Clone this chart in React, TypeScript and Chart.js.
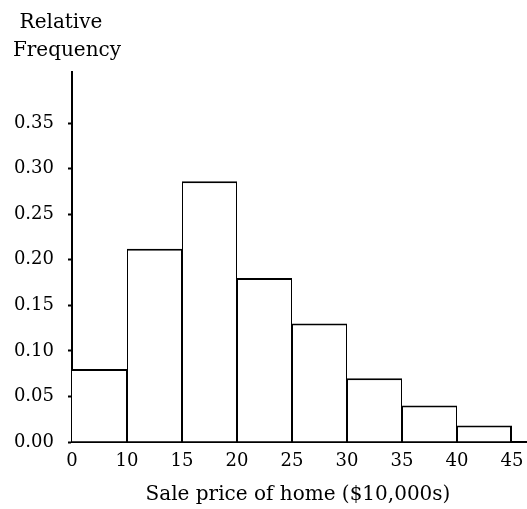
import React, { useEffect, useRef } from "react";
import { Chart, registerables } from "chart.js";

Chart.register(...registerables);

const binEdgeLabels = ["0", "10", "15", "20", "25", "30", "35", "40", "45"];
const relativeFrequency = [0.08, 0.212, 0.286, 0.18, 0.13, 0.07, 0.04, 0.018];
const yTickValues = [0, 0.05, 0.1, 0.15, 0.2, 0.25, 0.3, 0.35];
const yAxisTitle = ["Relative", "Frequency"];
const xAxisTitle = "Sale price of home ($10,000s)";

const FONT_FAMILY = '"DejaVu Serif", "Liberation Serif", serif';

const titlePlugin = {
  id: "axisTitles",
  afterDraw(chart: any) {
    const ctx = chart.ctx;
    const xs = chart.scales.x;
    ctx.save();
    ctx.fillStyle = "#000";
    ctx.font = `20px ${FONT_FAMILY}`;
    ctx.textAlign = "center";
    ctx.textBaseline = "alphabetic";
    ctx.fillText(yAxisTitle[0], 61, 28);
    ctx.fillText(yAxisTitle[1], 67, 56);
    const cx = (xs.getPixelForValue(0) + xs.getPixelForValue(8)) / 2 + 6;
    ctx.fillText(xAxisTitle, cx, 500);
    ctx.restore();
  },
};

export default function App() {
  const ref = useRef<HTMLCanvasElement | null>(null);

  useEffect(() => {
    if (!ref.current) return;
    const data = relativeFrequency.map((v, i) => ({ x: i + 0.5, y: v }));
    const last = relativeFrequency.length - 1;
    const chart = new Chart(ref.current, {
      type: "bar",
      data: {
        datasets: [
          {
            data,
            backgroundColor: "#ffffff",
            borderColor: "#000000",
            borderWidth: (c: any) => ({
              top: 2,
              left: c.dataIndex === 0 ? 0 : 1,
              right: c.dataIndex === last ? 2 : 1,
              bottom: 0,
            }),
            borderSkipped: false,
            inflateAmount: 0,
            barPercentage: 1,
            categoryPercentage: 1,
          },
        ],
      },
      options: {
        responsive: false,
        animation: false,
        layout: { padding: { top: 72, right: 0, left: 0, bottom: 0 } },
        plugins: {
          legend: { display: false },
          tooltip: { enabled: false },
        },
        scales: {
          x: {
            type: "linear",
            min: 0,
            max: 455 / 55,
            offset: false,
            grid: { display: true, drawOnChartArea: false, drawTicks: false, offset: false },
            border: { display: true, color: "#000", width: 2 },
            afterBuildTicks(scale: any) {
              scale.ticks = binEdgeLabels.map((_, i) => ({ value: i }));
            },
            afterFit(scale: any) {
              scale.height = 67;
              scale.paddingLeft = 0;
              scale.paddingRight = 0;
            },
            ticks: {
              color: "#000",
              font: { family: FONT_FAMILY, size: 18 },
              padding: 9,
              maxRotation: 0,
              autoSkip: false,
              callback: (_v: any, i: number) => binEdgeLabels[i],
            },
          },
          y: {
            type: "linear",
            min: 0,
            max: 0.406,
            grid: { drawOnChartArea: false, drawTicks: true, tickLength: 4, color: "#000", tickWidth: 2 },
            border: { display: true, color: "#000", width: 2 },
            afterBuildTicks(scale: any) {
              scale.ticks = yTickValues.map((v) => ({ value: v }));
            },
            afterFit(scale: any) {
              scale.width = 72;
            },
            ticks: {
              color: "#000",
              font: { family: FONT_FAMILY, size: 18 },
              padding: 14,
              autoSkip: false,
              callback: (v: any) => Number(v).toFixed(2),
            },
          },
        },
      },
      plugins: [titlePlugin],
    });
    return () => chart.destroy();
  }, []);

  return (
    <div style={{ position: "fixed", left: 0, top: 0, width: 527, height: 509, background: "#fff" }}>
      <canvas ref={ref} width={527} height={509} />
    </div>
  );
}
